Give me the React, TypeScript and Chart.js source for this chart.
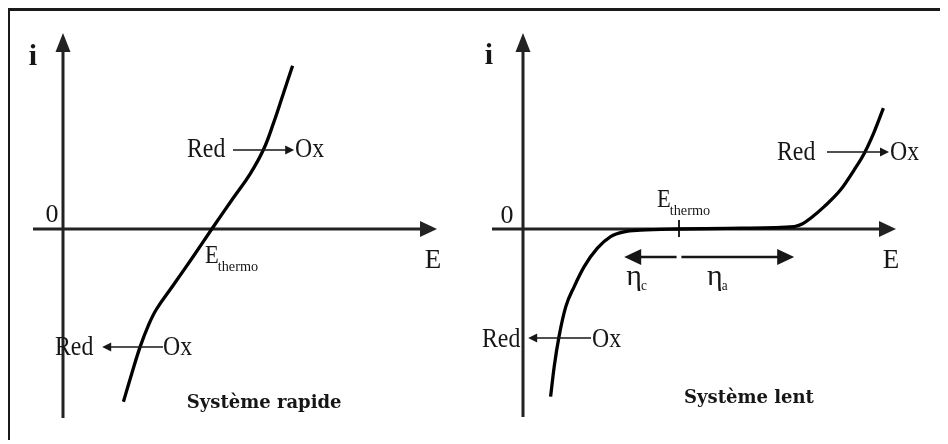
import React, { useEffect, useRef } from "react";
import { Chart, registerables } from "chart.js";

Chart.register(...registerables);

// Current–potential curve i(E) of a fast redox system
const rapideE = [1.51, 1.72, 1.93, 2.13, 2.34, 2.76, 3.26, 3.72, 4.26, 4.68, 5.01, 5.26, 5.51, 5.74];
const rapideI = [-4.32, -3.61, -2.94, -2.42, -2.0, -1.4, -0.68, 0, 0.78, 1.38, 1.98, 2.64, 3.39, 4.08];

// Current–potential curve i(E) of a slow redox system
const lentE = [0.69, 0.78, 0.9, 1.07, 1.28, 1.53, 1.86, 2.19, 2.53, 2.94, 3.9, 5.44, 6.78, 6.99, 7.19, 7.53, 7.94, 8.28, 8.53, 8.78, 9.01];
const lentI = [-4.19, -3.44, -2.69, -1.94, -1.44, -0.94, -0.48, -0.19, -0.07, -0.03, 0, 0.02, 0.06, 0.13, 0.27, 0.56, 0.98, 1.48, 1.89, 2.43, 3.02];

// Equilibrium potentials and overpotential range
const ethermoRapide = 3.72;
const ethermoLent = 3.9;
const etaRange = [2.53, 6.78];

const SERIF = '"Liberation Serif", "Times New Roman", serif';
const INK = "#161616";

type Label = {
  text: string;
  sub?: string;
  E: number;
  i: number;
  align: CanvasTextAlign;
  size: number;
  sx?: number;
  subSize?: number;
  subDy?: number;
  bold?: boolean;
  family?: string;
};

type Arrow = { from: number; to: number; at: number; width: number; len: number; half: number };

type Panel = {
  E: number[];
  I: number[];
  smooth: "tension" | "monotone";
  xMin: number;
  xMax: number;
  width: number;
  left: number;
  eAxis: [number, number];
  iAxis: [number, number];
  labels: Label[];
  arrows: Arrow[];
  tick?: { E: number; from: number; to: number };
};

const yMin = -5.275;
const yMax = 5.45;
const HEIGHT = 429;

const panels: Panel[] = [
  {
    E: rapideE,
    I: rapideI,
    smooth: "tension",
    xMin: -1.325,
    xMax: 10.275,
    width: 464,
    left: 0,
    eAxis: [-0.75, 9.35],
    iAxis: [-4.725, 4.9],
    labels: [
      { text: "i", E: -0.75, i: 4.1, align: "center", size: 30, bold: true },
      { text: "0", E: -0.275, i: 0.175, align: "center", size: 26 },
      { text: "E", E: 9.25, i: -0.975, align: "center", size: 27 },
      { text: "E", sub: "thermo", E: ethermoRapide - 0.17, i: -0.85, align: "left", size: 25, subSize: 15, subDy: 8, sx: 0.9 },
      { text: "Red", E: 3.1, i: 1.8, align: "left", size: 28, sx: 0.85 },
      { text: "Ox", E: 5.8, i: 1.8, align: "left", size: 28, sx: 0.85 },
      { text: "Red", E: -0.2, i: -3.15, align: "left", size: 28, sx: 0.85 },
      { text: "Ox", E: 2.5, i: -3.15, align: "left", size: 28, sx: 0.85 },
      { text: "Système rapide", E: 5.03, i: -4.475, align: "center", size: 18, bold: true, family: '"DejaVu Serif", serif' },
    ],
    arrows: [
      { from: 4.25, to: 5.78, at: 1.975, width: 1.6, len: 9, half: 4.5 },
      { from: 2.5, to: 0.98, at: -2.95, width: 1.6, len: 9, half: 4.5 },
    ],
  },
  {
    E: lentE,
    I: lentI,
    smooth: "monotone",
    xMin: -1.225,
    xMax: 10.625,
    width: 474,
    left: 464,
    eAxis: [-0.775, 9.325],
    iAxis: [-4.7, 4.9],
    labels: [
      { text: "i", E: -0.85, i: 4.125, align: "center", size: 30, bold: true },
      { text: "0", E: -0.4, i: 0.15, align: "center", size: 26 },
      { text: "E", E: 9.2, i: -0.975, align: "center", size: 27 },
      { text: "E", sub: "thermo", E: ethermoLent - 0.55, i: 0.55, align: "left", size: 25, subSize: 15, subDy: 8, sx: 0.9 },
      { text: "η", sub: "c", E: etaRange[0] + 0.05, i: -1.4, align: "left", size: 30, subSize: 14, subDy: 5 },
      { text: "η", sub: "a", E: 4.6, i: -1.4, align: "left", size: 30, subSize: 14, subDy: 5 },
      { text: "Red", E: 6.35, i: 1.725, align: "left", size: 28, sx: 0.85 },
      { text: "Ox", E: 9.175, i: 1.725, align: "left", size: 28, sx: 0.85 },
      { text: "Red", E: -1.025, i: -2.95, align: "left", size: 28, sx: 0.85 },
      { text: "Ox", E: 1.725, i: -2.95, align: "left", size: 28, sx: 0.85 },
      { text: "Système lent", E: 5.65, i: -4.35, align: "center", size: 18, bold: true, family: '"DejaVu Serif", serif' },
    ],
    arrows: [
      { from: 7.6, to: 9.15, at: 1.925, width: 1.6, len: 9, half: 4.5 },
      { from: 1.7, to: 0.13, at: -2.725, width: 1.6, len: 9, half: 4.5 },
      { from: ethermoLent - 0.06, to: etaRange[0], at: -0.7, width: 2.4, len: 17, half: 8 },
      { from: ethermoLent + 0.06, to: etaRange[1], at: -0.7, width: 2.4, len: 17, half: 8 },
    ],
    tick: { E: ethermoLent, from: 0.225, to: -0.2 },
  },
];

function head(ctx: CanvasRenderingContext2D, tx: number, ty: number, dx: number, dy: number, len: number, half: number) {
  const bx = tx - dx * len;
  const by = ty - dy * len;
  const nx = -dy;
  const ny = dx;
  ctx.beginPath();
  ctx.moveTo(tx, ty);
  ctx.lineTo(bx + nx * half, by + ny * half);
  ctx.lineTo(bx - nx * half, by - ny * half);
  ctx.closePath();
  ctx.fill();
}

function seg(ctx: CanvasRenderingContext2D, x0: number, y0: number, x1: number, y1: number) {
  ctx.beginPath();
  ctx.moveTo(x0, y0);
  ctx.lineTo(x1, y1);
  ctx.stroke();
}

function makeDiagram(p: Panel) {
  return {
    id: "diagram",
    beforeDatasetsDraw(chart: any) {
      const { ctx } = chart;
      const xs = chart.scales.x;
      const ys = chart.scales.y;
      const px = (v: number) => xs.getPixelForValue(v);
      const py = (v: number) => ys.getPixelForValue(v);
      ctx.save();
      ctx.strokeStyle = "#222";
      ctx.fillStyle = "#222";
      ctx.lineWidth = 3;
      // E axis with arrow
      const y0 = py(0);
      const eTip = px(p.eAxis[1]);
      seg(ctx, px(p.eAxis[0]), y0, eTip - 14, y0);
      head(ctx, eTip, y0, 1, 0, 17, 8);
      // i axis with arrow
      const x0 = px(0);
      const iTip = py(p.iAxis[1]);
      seg(ctx, x0, py(p.iAxis[0]), x0, iTip + 16);
      head(ctx, x0, iTip, 0, -1, 19, 7.5);
      if (p.tick) {
        ctx.lineWidth = 2;
        seg(ctx, px(p.tick.E), py(p.tick.from), px(p.tick.E), py(p.tick.to));
      }
      ctx.restore();
    },
    afterDatasetsDraw(chart: any) {
      const { ctx } = chart;
      const xs = chart.scales.x;
      const ys = chart.scales.y;
      const px = (v: number) => xs.getPixelForValue(v);
      const py = (v: number) => ys.getPixelForValue(v);
      ctx.save();
      ctx.strokeStyle = INK;
      ctx.fillStyle = INK;
      for (const a of p.arrows) {
        const x1 = px(a.from);
        const x2 = px(a.to);
        const y = py(a.at);
        const dir = x2 > x1 ? 1 : -1;
        ctx.lineWidth = a.width;
        seg(ctx, x1, y, x2 - dir * (a.len - 2), y);
        head(ctx, x2, y, dir, 0, a.len, a.half);
      }
      for (const l of p.labels) {
        const family = l.family || SERIF;
        const sx = l.sx || 1;
        ctx.save();
        ctx.font = `${l.bold ? "bold " : ""}${l.size}px ${family}`;
        ctx.textBaseline = "alphabetic";
        const w = ctx.measureText(l.text).width * sx;
        let x = px(l.E);
        const y = py(l.i);
        if (l.align === "center") x -= w / 2;
        ctx.translate(x, y);
        ctx.scale(sx, 1);
        ctx.textAlign = "left";
        ctx.fillText(l.text, 0, 0);
        ctx.restore();
        if (l.sub) {
          ctx.save();
          ctx.font = `${l.subSize || 14}px ${family}`;
          ctx.textBaseline = "alphabetic";
          ctx.textAlign = "left";
          ctx.translate(x + w - 1, y + (l.subDy || 6));
          ctx.scale(0.95, 1);
          ctx.fillText(l.sub, 0, 0);
          ctx.restore();
        }
      }
      ctx.restore();
    },
  };
}

function PanelChart({ p }: { p: Panel }) {
  const ref = useRef<HTMLCanvasElement | null>(null);
  useEffect(() => {
    if (!ref.current) return;
    const chart = new Chart(ref.current, {
      type: "scatter",
      data: {
        datasets: [
          {
            data: p.E.map((e, k) => ({ x: e, y: p.I[k] })),
            showLine: true,
            borderColor: "#000",
            borderWidth: 3.3,
            pointRadius: 0,
            tension: p.smooth === "tension" ? 0.4 : 0,
            cubicInterpolationMode: p.smooth === "monotone" ? "monotone" : "default",
            clip: false as any,
          },
        ],
      },
      options: {
        animation: false,
        responsive: false,
        devicePixelRatio: 1,
        layout: { padding: 0 },
        events: [],
        scales: {
          x: { type: "linear", min: p.xMin, max: p.xMax, display: false },
          y: { type: "linear", min: yMin, max: yMax, display: false },
        },
        plugins: { legend: { display: false }, tooltip: { enabled: false } },
      },
      plugins: [makeDiagram(p)],
    });
    return () => chart.destroy();
  }, [p]);
  return (
    <canvas
      ref={ref}
      width={p.width}
      height={HEIGHT}
      style={{ position: "absolute", left: p.left, top: 0, width: p.width, height: HEIGHT }}
    />
  );
}

export default function App() {
  useEffect(() => {
    document.documentElement.style.overflow = "hidden";
    document.body.style.overflow = "hidden";
  }, []);
  return (
    <div
      style={{
        position: "relative",
        width: 940,
        height: 432,
        boxSizing: "border-box",
        borderTop: "3px solid #1a1a1a",
        borderLeft: "2px solid #1a1a1a",
        background: "#fff",
      }}
    >
      {panels.map((p, k) => (
        <PanelChart key={k} p={p} />
      ))}
    </div>
  );
}
